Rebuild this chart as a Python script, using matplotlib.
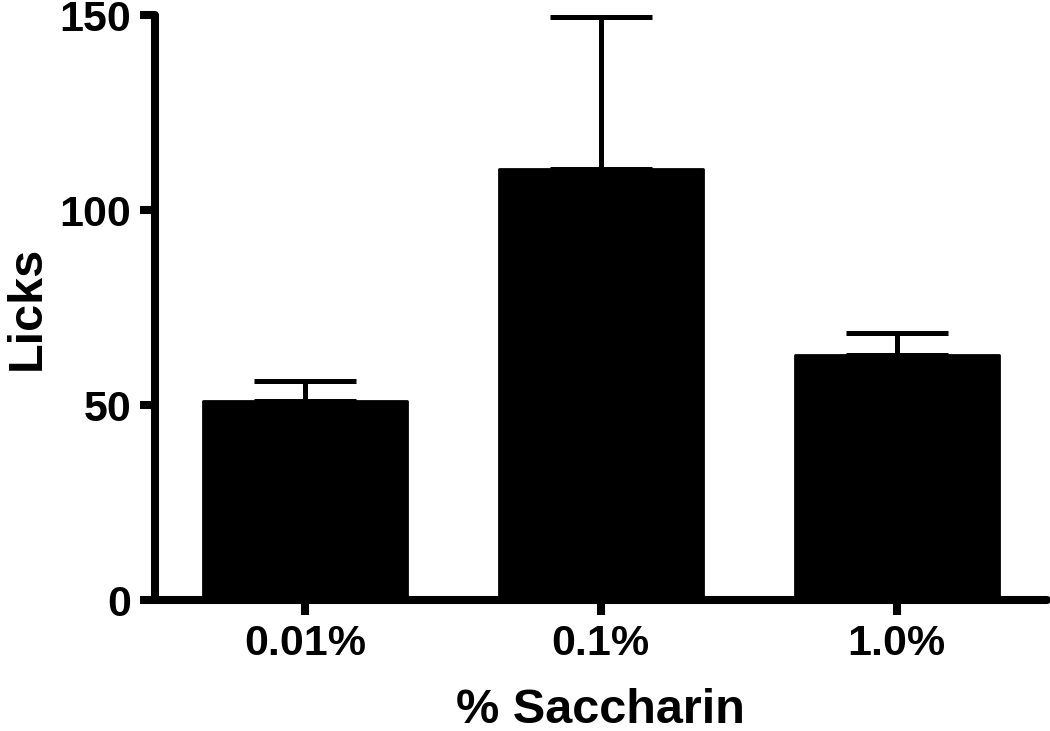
import numpy as np
import matplotlib.pyplot as plt
import matplotlib as mpl

mpl.rcParams.update({'font.family': 'Liberation Sans', 'font.weight': 'bold'})

# data
categories = ['0.01%', '0.1%', '1.0%']
licks = [51.0, 110.5, 63.0]
sem = [5.3, 39.0, 5.6]
yticks = [0, 50, 100, 150]

fig = plt.figure(figsize=(10.5, 7.31), dpi=100)
ax = fig.add_axes([0.1476, 0.179, 0.850, 0.800])

x = np.arange(len(categories))
bars = ax.bar(x, licks, width=0.69, color='black', edgecolor='black',
              linewidth=2, joinstyle='round', zorder=2)
eb = ax.errorbar(x, licks, yerr=[np.zeros(len(sem)), sem], fmt='none',
                 ecolor='black', elinewidth=3.6, capsize=37, capthick=3.6,
                 zorder=1)
for ln in eb.lines[1] + eb.lines[2]:
    try:
        ln.set_solid_capstyle('round')
    except AttributeError:
        ln.set_capstyle('round')

ax.set_xlim(-0.507, 2.51)
ax.set_ylim(0, 150)
ax.set_yticks(yticks)
ax.set_xticks(x)
ax.set_xticklabels(categories)

for s in ['top', 'right']:
    ax.spines[s].set_visible(False)
for s in ['left', 'bottom']:
    ax.spines[s].set_linewidth(5.8)
    ax.spines[s].set_capstyle('round')

ax.tick_params(axis='both', width=5.8, length=11, labelsize=31, pad=6)
for t in ax.get_xticklines() + ax.get_yticklines():
    t.set_solid_capstyle('round')
for lab in ax.get_xticklabels() + ax.get_yticklabels():
    lab.set_fontweight('bold')

ax.set_ylabel('Licks', fontsize=35, fontweight='bold')
ax.set_xlabel('% Saccharin', fontsize=35, fontweight='bold')
ax.yaxis.set_label_coords(-0.118, 0.50)
ax.xaxis.set_label_coords(0.4986, -0.150)

fig.savefig('out.png', dpi=100)
